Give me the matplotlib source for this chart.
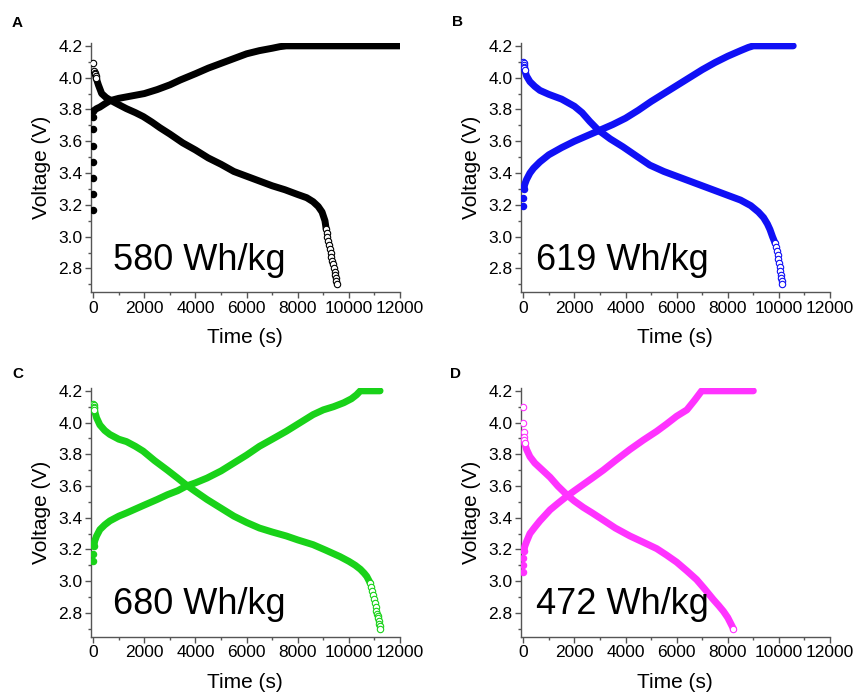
import matplotlib
matplotlib.use('Agg')
import matplotlib.pyplot as plt
from matplotlib.ticker import MultipleLocator

plt.rcParams['font.family'] = ['Liberation Sans', 'DejaVu Sans']

# Charge (filled) and discharge (open) curves, time in s, voltage in V
a_charge_t = [0, 0, 0, 0, 0, 0, 0, 0, 130, 260, 450, 650, 1000, 1500, 2000, 2500, 3000, 3400, 4000, 4500,
              5000, 5500, 6000, 6500, 7000, 7300, 7550, 12000]
a_charge_v = [3.17, 3.27, 3.37, 3.47, 3.57, 3.675, 3.75, 3.79, 3.805, 3.815, 3.835, 3.855, 3.87, 3.885, 3.90,
              3.925, 3.955, 3.985, 4.025, 4.06, 4.09, 4.12, 4.15, 4.17, 4.185, 4.195, 4.20, 4.20]
a_dis_t = [0, 30, 50, 70, 90, 110, 200, 330, 500, 650, 1000, 1300, 1650, 1960, 2300, 2610, 3000, 3500, 4000,
           4500, 5000, 5500, 6000, 6500, 7000, 7500, 8000, 8350, 8600, 8800, 8950, 9065,
           9110, 9140, 9160, 9190, 9220, 9255, 9290, 9320, 9350, 9385, 9420, 9450, 9475, 9495, 9510, 9520]
a_dis_v = [4.09, 4.04, 4.03, 4.02, 4.01, 4.00, 3.955, 3.90, 3.875, 3.86, 3.83, 3.805, 3.78, 3.755, 3.72, 3.685,
           3.645, 3.59, 3.545, 3.495, 3.455, 3.41, 3.38, 3.35, 3.32, 3.295, 3.265, 3.245, 3.22, 3.19, 3.155,
           3.10, 3.05, 3.02, 3.00, 2.975, 2.95, 2.925, 2.90, 2.875, 2.85, 2.825, 2.80, 2.78, 2.76, 2.74, 2.72,
           2.70]

b_charge_t = [0, 0, 20, 60, 130, 260, 400, 650, 1000, 1500, 2000, 2500, 3000, 3500, 4000, 4500, 5000, 5500,
              6000, 6500, 7000, 7500, 8000, 8500, 8800, 9000, 10560]
b_charge_v = [3.19, 3.245, 3.30, 3.33, 3.36, 3.40, 3.43, 3.47, 3.515, 3.56, 3.60, 3.635, 3.67, 3.705, 3.745,
              3.795, 3.85, 3.90, 3.95, 4.00, 4.05, 4.095, 4.135, 4.17, 4.19, 4.20, 4.20]
b_dis_t = [0, 10, 20, 30, 40, 50, 130, 260, 450, 650, 1000, 1500, 2000, 2300, 2600, 2935, 3400, 3900, 4400,
           4950, 5500, 6000, 6500, 7000, 7500, 8000, 8500, 8900, 9200, 9400, 9550, 9650, 9750,
           9850, 9890, 9920, 9950, 9980, 10005, 10030, 10050, 10070, 10090, 10110, 10130]
b_dis_v = [4.10, 4.09, 4.08, 4.07, 4.06, 4.05, 4.01, 3.975, 3.945, 3.92, 3.895, 3.865, 3.82, 3.78, 3.725, 3.67,
           3.615, 3.565, 3.51, 3.45, 3.41, 3.38, 3.35, 3.32, 3.29, 3.26, 3.23, 3.195, 3.155, 3.12, 3.08, 3.045,
           3.00, 2.96, 2.935, 2.91, 2.885, 2.86, 2.835, 2.81, 2.785, 2.76, 2.74, 2.72, 2.70]

c_charge_t = [0, 0, 20, 60, 130, 260, 450, 650, 1000, 1300, 1650, 2000, 2500, 2900, 3300, 3650, 4000, 4450,
              5000, 5500, 6000, 6500, 7000, 7550, 8000, 8600, 9000, 9400, 9800, 10100, 10300, 10450, 11220]
c_charge_v = [3.125, 3.17, 3.22, 3.255, 3.285, 3.325, 3.355, 3.38, 3.41, 3.43, 3.455, 3.48, 3.515, 3.545,
              3.57, 3.60, 3.62, 3.65, 3.695, 3.745, 3.795, 3.85, 3.895, 3.945, 3.99, 4.05, 4.08, 4.10, 4.125,
              4.15, 4.175, 4.20, 4.20]
c_dis_t = [0, 10, 20, 30, 40, 130, 260, 450, 650, 1000, 1300, 1650, 1950, 2400, 2900, 3300, 3650, 4000, 4450,
           5000, 5500, 6000, 6500, 7000, 7550, 8000, 8600, 9100, 9650, 10000, 10250, 10450, 10600, 10700,
           10830, 10880, 10920, 10960, 10990, 11020, 11050, 11080, 11105, 11130, 11150, 11170, 11190, 11205,
           11217]
c_dis_v = [4.12, 4.11, 4.10, 4.09, 4.08, 4.03, 3.985, 3.95, 3.925, 3.895, 3.88, 3.85, 3.82, 3.76, 3.70, 3.65,
           3.605, 3.565, 3.515, 3.46, 3.41, 3.37, 3.335, 3.31, 3.285, 3.26, 3.23, 3.195, 3.155, 3.125, 3.10,
           3.075, 3.05, 3.03, 2.99, 2.965, 2.94, 2.915, 2.89, 2.865, 2.84, 2.815, 2.795, 2.78, 2.765, 2.75,
           2.73, 2.715, 2.70]

d_charge_t = [0, 0, 0, 20, 60, 130, 260, 450, 650, 850, 1050, 1350, 1700, 2000, 2350, 2700, 3130, 3600, 4170,
              4700, 5220, 5600, 6000, 6400, 6700, 6980, 9000]
d_charge_v = [3.06, 3.105, 3.145, 3.19, 3.22, 3.25, 3.30, 3.34, 3.38, 3.415, 3.45, 3.49, 3.535, 3.57, 3.61,
              3.65, 3.70, 3.76, 3.83, 3.89, 3.945, 3.99, 4.04, 4.08, 4.14, 4.20, 4.20]
d_dis_t = [0, 0, 20, 30, 40, 50, 130, 260, 450, 650, 850, 1050, 1350, 1700, 2000, 2350, 2700, 3130, 3600, 4170,
           4700, 5220, 5600, 6000, 6400, 6780, 7100, 7430, 7650, 7830, 8000, 8220]
d_dis_v = [4.095, 4.00, 3.94, 3.91, 3.89, 3.87, 3.83, 3.785, 3.745, 3.715, 3.685, 3.655, 3.60, 3.545, 3.505,
           3.465, 3.43, 3.385, 3.335, 3.285, 3.245, 3.205, 3.165, 3.12, 3.065, 3.01, 2.95, 2.885, 2.845, 2.81,
           2.77, 2.70]

labels = ['A', 'B', 'C', 'D']
energies = ['580 Wh/kg', '619 Wh/kg', '680 Wh/kg', '472 Wh/kg']
colors = ['#000000', '#1010f5', '#19d219', '#ff33ff']

# voltage limits of the dense band: charge start, discharge top, discharge bottom
band_limits = [(3.79, 4.00, 3.05), (3.30, 4.05, 2.96), (3.22, 4.08, 2.99), (3.19, 3.87, 2.70)]


def draw_panel(ax, ct, cv, dt, dv, color, energy, text_x, limits):
    c_start, d_top, d_bottom = limits
    c_line = [i for i in range(len(cv)) if cv[i] >= c_start]
    c_dots = [i for i in range(len(cv)) if cv[i] <= c_start]
    d_line = [i for i in range(len(dv)) if d_bottom <= dv[i] <= d_top]
    d_open = [i for i in range(len(dv)) if dv[i] >= d_top or dv[i] <= d_bottom]

    # thick bands where the points overlap
    ax.plot([ct[i] for i in c_line], [cv[i] for i in c_line], '-', color=color, lw=5.0,
            solid_capstyle='round', solid_joinstyle='round', zorder=3)
    ax.plot([dt[i] for i in d_line], [dv[i] for i in d_line], '-', color=color, lw=5.0,
            solid_capstyle='round', solid_joinstyle='round', zorder=3)
    # points that stand apart
    ax.plot([ct[i] for i in c_dots], [cv[i] for i in c_dots], 'o', color=color, ms=4.4, zorder=4)
    ax.plot([dt[i] for i in d_open], [dv[i] for i in d_open], 'o', mfc='white', mec=color, mew=0.8,
            ms=4.6, zorder=4)

    ax.set_xlim(-100, 12000)
    ax.set_ylim(2.65, 4.22)
    ax.xaxis.set_major_locator(MultipleLocator(2000))
    ax.xaxis.set_minor_locator(MultipleLocator(1000))
    ax.yaxis.set_major_locator(MultipleLocator(0.2))
    ax.yaxis.set_minor_locator(MultipleLocator(0.1))
    ax.yaxis.set_major_formatter(plt.FormatStrFormatter('%.1f'))
    for side in ['top', 'right']:
        ax.spines[side].set_visible(False)
    for side in ['left', 'bottom']:
        ax.spines[side].set_color('#555555')
        ax.spines[side].set_linewidth(1.0)
    ax.tick_params(which='major', direction='out', length=4, width=1, color='#555555',
                   labelsize=12.5, pad=2)
    ax.tick_params(which='minor', direction='out', length=2.5, width=1, color='#555555')
    ax.set_xlabel('Time (s)', fontsize=15, labelpad=9)
    ax.set_ylabel('Voltage (V)', fontsize=15, labelpad=5)
    ax.text(text_x, 2.79, energy, fontsize=26, va='baseline', ha='left')


fig = plt.figure(figsize=(8.58, 6.94), dpi=100)
boxes = [
    [0.1057, 0.5788, 0.3605, 0.3597],
    [0.6069, 0.5788, 0.3605, 0.3597],
    [0.1057, 0.0826, 0.3605, 0.3588],
    [0.6069, 0.0826, 0.3605, 0.3588],
]
data = [
    (a_charge_t, a_charge_v, a_dis_t, a_dis_v),
    (b_charge_t, b_charge_v, b_dis_t, b_dis_v),
    (c_charge_t, c_charge_v, c_dis_t, c_dis_v),
    (d_charge_t, d_charge_v, d_dis_t, d_dis_v),
]
text_xs = [760, 480, 760, 480]
letter_pos = [(12, 23), (452, 22), (12, 374), (450, 374)]

for i in range(4):
    ax = fig.add_axes(boxes[i])
    ct, cv, dt, dv = data[i]
    draw_panel(ax, ct, cv, dt, dv, colors[i], energies[i], text_xs[i], band_limits[i])
    px, py = letter_pos[i]
    fig.text(px / 858, 1 - py / 694, labels[i], fontsize=11, fontweight='bold', ha='left', va='center')

fig.savefig('out.png', dpi=100)
